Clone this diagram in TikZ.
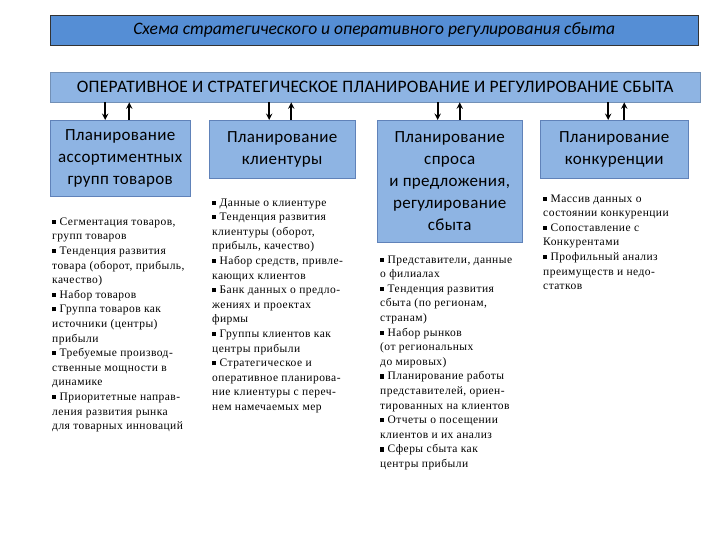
\documentclass[tikz,border=0pt]{standalone}
\usepackage{fontspec}
\setmainfont{Liberation Serif}
\newfontfamily\headfont{Carlito}
\usepackage{xcolor}
\usetikzlibrary{arrows, positioning, calc}

\definecolor{titleblue}{RGB}{85,142,213}
\definecolor{barblue}{RGB}{142,180,227}
\definecolor{boxblue}{RGB}{142,180,227}
\definecolor{boxedge}{RGB}{96,130,185}
\newcommand{\bul}{\rule[0.12em]{0.36em}{0.36em}\ }

\begin{document}
\begin{tikzpicture}[
        x=1pt, y=1pt,
        titlebar/.style={rectangle, draw=black!80, fill=titleblue, minimum width=648pt, minimum height=30pt, anchor=north west, inner sep=0pt, font=\headfont\itshape\fontsize{17.5}{20}\selectfont},
        bar/.style={rectangle, draw=barblue!80!black, fill=barblue, minimum width=650pt, minimum height=30pt, anchor=north west, inner sep=0pt, font=\headfont\fontsize{17.5}{20}\selectfont\addfontfeature{LetterSpace=1.5}},
        box/.style={rectangle, draw=boxedge, fill=boxblue, anchor=north west, inner sep=0pt, align=center, font=\headfont\fontsize{17}{22}\selectfont\addfontfeature{LetterSpace=2}},
        list/.style={align=left, inner sep=0pt, anchor=north west, font=\fontsize{11.5}{14.6}\selectfont\addfontfeature{LetterSpace=4}},
        arrow/.style={->, line width=1.8pt},
        >=stealth
    ]
    \useasboundingbox (0,0) rectangle (720,-540);

    \node (title) [titlebar] at (50,-15) {Схема стратегического и оперативного регулирования сбыта};
    \node (plan) [bar] at (50,-72) {ОПЕРАТИВНОЕ И СТРАТЕГИЧЕСКОЕ ПЛАНИРОВАНИЕ И РЕГУЛИРОВАНИЕ СБЫТА};

    \node (assort) [box, minimum width=140pt, minimum height=76pt] at (50,-120) {Планирование\\ассортиментных\\групп товаров};
    \node (client) [box, minimum width=146pt, minimum height=58pt] at (209,-120) {Планирование\\клиентуры};
    \node (demand) [box, minimum width=145pt, minimum height=122pt] at (377,-120) {Планирование\\спроса\\и предложения,\\регулирование\\сбыта};
    \node (compet) [box, minimum width=148pt, minimum height=58pt] at (540,-120) {Планирование\\конкуренции};

    % входящие и исходящие связи
    \coordinate (assortin) at ($(assort.north)+(-15,0)$);
    \coordinate (assortout) at ($(assort.north)+(9,0)$);
    \coordinate (clientin) at ($(client.north)+(-13,0)$);
    \coordinate (clientout) at ($(client.north)+(9,0)$);
    \coordinate (demandin) at ($(demand.north)+(-12,0)$);
    \coordinate (demandout) at ($(demand.north)+(10,0)$);
    \coordinate (competin) at ($(compet.north)+(-6,0)$);
    \coordinate (competout) at ($(compet.north)+(10,0)$);

    \draw[arrow] (assortin |- plan.south) -- (assortin);
    \draw[arrow] (assortout) -- (assortout |- plan.south);
    \draw[arrow] (clientin |- plan.south) -- (clientin);
    \draw[arrow] (clientout) -- (clientout |- plan.south);
    \draw[arrow] (demandin |- plan.south) -- (demandin);
    \draw[arrow] (demandout) -- (demandout |- plan.south);
    \draw[arrow] (competin |- plan.south) -- (competin);
    \draw[arrow] (competout) -- (competout |- plan.south);

    \node (assortlist) [list, below=21pt of assort.south west, anchor=north west, xshift=2pt] {%
        \bul Сегментация товаров,\\групп товаров\\
        \bul Тенденция развития\\товара (оборот, прибыль,\\качество)\\
        \bul Набор товаров\\
        \bul Группа товаров как\\источники (центры)\\прибыли\\
        \bul Требуемые производ-\\ственные мощности в\\динамике\\
        \bul Приоритетные направ-\\ления развития рынка\\для товарных инноваций};
    \node (clientlist) [list, below=20pt of client.south west, anchor=north west, xshift=3pt] {%
        \bul Данные о клиентуре\\
        \bul Тенденция развития\\клиентуры (оборот,\\прибыль, качество)\\
        \bul Набор средств, привле-\\кающих клиентов\\
        \bul Банк данных о предло-\\жениях и проектах\\фирмы\\
        \bul Группы клиентов как\\центры прибыли\\
        \bul Стратегическое и\\оперативное планирова-\\ние клиентуры с переч-\\нем намечаемых мер};
    \node (demandlist) [list, below=13pt of demand.south west, anchor=north west, xshift=3pt] {%
        \bul Представители, данные\\о филиалах\\
        \bul Тенденция развития\\сбыта (по регионам,\\странам)\\
        \bul Набор рынков\\(от региональных\\до мировых)\\
        \bul Планирование работы\\представителей, ориен-\\тированных на клиентов\\
        \bul Отчеты о посещении\\клиентов и их анализ\\
        \bul Сферы сбыта как\\центры прибыли};
    \node (competlist) [list, below=16pt of compet.south west, anchor=north west, xshift=3pt] {%
        \bul Массив данных о\\состоянии конкуренции\\
        \bul Сопоставление с\\Конкурентами\\
        \bul Профильный анализ\\преимуществ и недо-\\статков};

\end{tikzpicture}
\end{document}
